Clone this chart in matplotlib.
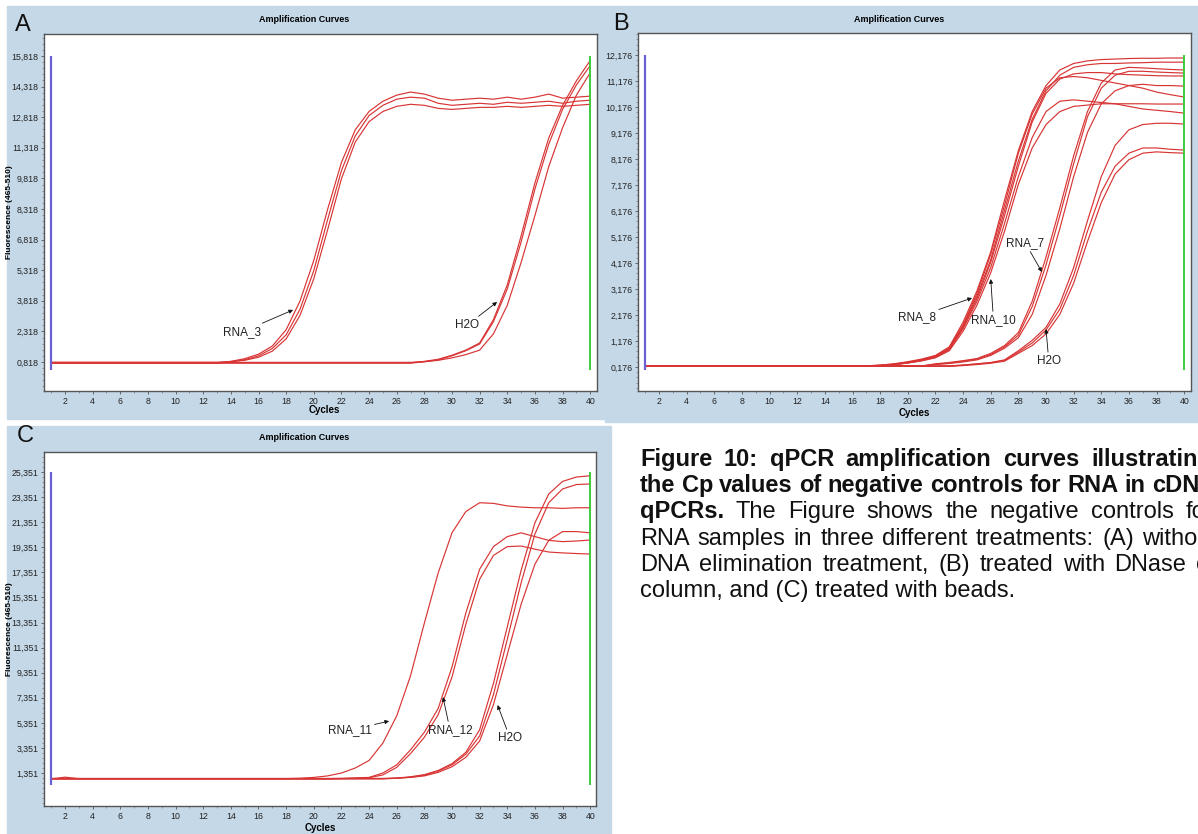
import matplotlib
matplotlib.use('Agg')
import matplotlib.pyplot as plt
import numpy as np
from matplotlib.patches import Rectangle
from matplotlib.ticker import MultipleLocator, AutoMinorLocator

W, H = 1198, 834
plt.rcParams['font.family'] = ['Liberation Sans Narrow', 'Liberation Sans', 'DejaVu Sans']

cycles = np.arange(1, 41)

# ---- panel A : no DNA elimination ----
a_ticks = [0.818, 2.318, 3.818, 5.318, 6.818, 8.318, 9.818, 11.318, 12.818, 14.318, 15.818]
a_rna3 = [
    [0.78] * 13 + [0.85, 0.98, 1.2, 1.6, 2.4, 3.8, 5.8, 8.3, 10.6, 12.2, 13.1, 13.6, 13.9, 14.05,
                   13.95, 13.75, 13.65, 13.7, 13.75, 13.7, 13.8, 13.7, 13.8, 13.95, 13.75, 13.8, 13.85],
    [0.76] * 13 + [0.82, 0.93, 1.12, 1.48, 2.15, 3.4, 5.3, 7.8, 10.2, 11.9, 12.9, 13.4, 13.7, 13.8,
                   13.75, 13.5, 13.4, 13.45, 13.5, 13.45, 13.55, 13.5, 13.55, 13.6, 13.5, 13.6, 13.65],
    [0.80] * 13 + [0.84, 0.9, 1.05, 1.35, 1.95, 3.1, 4.9, 7.3, 9.8, 11.6, 12.6, 13.1, 13.35, 13.45,
                   13.4, 13.25, 13.2, 13.25, 13.3, 13.3, 13.35, 13.3, 13.35, 13.4, 13.35, 13.4, 13.45],
]
a_h2o = [
    [0.78] * 27 + [0.85, 0.95, 1.15, 1.4, 1.75, 2.9, 4.6, 7.0, 9.6, 11.8, 13.4, 14.6, 15.6],
    [0.76] * 27 + [0.83, 0.93, 1.12, 1.37, 1.7, 2.8, 4.4, 6.7, 9.3, 11.5, 13.2, 14.4, 15.35],
    [0.80] * 27 + [0.83, 0.9, 1.02, 1.18, 1.4, 2.2, 3.6, 5.7, 8.0, 10.4, 12.3, 13.9, 15.0],
]

# ---- panel B : DNase on column ----
b_ticks = [0.176, 1.176, 2.176, 3.176, 4.176, 5.176, 6.176, 7.176, 8.176, 9.176, 10.176, 11.176, 12.176]
b_rna8_10 = [
    [0.22] * 17 + [0.25, 0.3, 0.38, 0.48, 0.62, 0.95, 1.9, 3.1, 4.6, 6.6, 8.5, 10.0, 11.0, 11.6,
                   11.85, 11.95, 12.0, 12.02, 12.04, 12.05, 12.05, 12.06, 12.06],
    [0.20] * 17 + [0.23, 0.28, 0.35, 0.45, 0.58, 0.9, 1.75, 2.9, 4.3, 6.2, 8.1, 9.7, 10.8, 11.4,
                   11.7, 11.8, 11.85, 11.85, 11.87, 11.88, 11.9, 11.9, 11.9],
    [0.22] * 17 + [0.24, 0.29, 0.36, 0.46, 0.6, 0.9, 1.8, 3.0, 4.5, 6.4, 8.4, 9.9, 10.9, 11.3,
                   11.35, 11.3, 11.2, 11.1, 11.0, 10.9, 10.75, 10.65, 10.56],
    [0.21] * 17 + [0.23, 0.27, 0.34, 0.44, 0.57, 0.85, 1.7, 2.8, 4.2, 6.0, 7.9, 9.6, 10.7, 11.25,
                   11.45, 11.5, 11.5, 11.45, 11.42, 11.4, 11.38, 11.37, 11.37],
    [0.20] * 17 + [0.22, 0.26, 0.33, 0.42, 0.55, 0.85, 1.65, 2.7, 4.0, 5.7, 7.5, 9.0, 10.0, 10.4,
                   10.45, 10.4, 10.35, 10.3, 10.2, 10.1, 10.05, 10.0, 9.94],
    [0.22] * 17 + [0.24, 0.27, 0.33, 0.41, 0.53, 0.8, 1.55, 2.55, 3.8, 5.4, 7.2, 8.6, 9.5, 10.0,
                   10.2, 10.25, 10.3, 10.3, 10.3, 10.3, 10.29, 10.29, 10.29],
]
b_rna7 = [
    [0.21] * 21 + [0.3, 0.35, 0.42, 0.5, 0.7, 1.0, 1.5, 2.7, 4.4, 6.3, 8.3, 10.0, 11.1, 11.6,
                   11.7, 11.68, 11.65, 11.62, 11.6],
    [0.22] * 21 + [0.28, 0.33, 0.4, 0.48, 0.66, 0.95, 1.4, 2.5, 4.1, 6.0, 8.0, 9.8, 10.9, 11.4,
                   11.55, 11.55, 11.52, 11.5, 11.48],
    [0.20] * 21 + [0.27, 0.31, 0.37, 0.45, 0.62, 0.9, 1.3, 2.2, 3.7, 5.5, 7.5, 9.2, 10.3, 10.8,
                   11.0, 11.05, 11.0, 11.0, 10.98],
]
b_h2o = [
    [0.21] * 23 + [0.25, 0.3, 0.35, 0.45, 0.8, 1.2, 1.7, 2.6, 4.0, 5.8, 7.5, 8.7, 9.3, 9.5, 9.55, 9.55, 9.52],
    [0.22] * 23 + [0.25, 0.29, 0.34, 0.43, 0.75, 1.1, 1.6, 2.4, 3.7, 5.4, 6.9, 7.9, 8.4, 8.6, 8.6, 8.55, 8.52],
    [0.20] * 23 + [0.23, 0.27, 0.32, 0.4, 0.7, 1.0, 1.45, 2.2, 3.4, 5.0, 6.5, 7.6, 8.15, 8.4, 8.45, 8.42, 8.4],
]

# ---- panel C : beads ----
c_ticks = [1.351, 3.351, 5.351, 7.351, 9.351, 11.351, 13.351, 15.351, 17.351, 19.351, 21.351, 23.351, 25.351]
c_rna11 = [
    [0.88, 1.02] + [0.9] * 15 + [0.9, 0.93, 1.0, 1.12, 1.35, 1.75, 2.35, 3.74, 5.9, 9.1, 13.3, 17.3,
                                 20.5, 22.2, 22.9, 22.85, 22.65, 22.55, 22.5, 22.5, 22.45, 22.5, 22.5],
]
c_rna12 = [
    [0.90] * 21 + [0.92, 0.96, 1.0, 1.35, 2.0, 3.2, 4.6, 6.5, 9.8, 14.1, 17.6, 19.4, 20.2, 20.5,
                   20.2, 19.9, 19.8, 19.85, 19.93],
    [0.88] * 21 + [0.9, 0.93, 0.97, 1.2, 1.8, 2.9, 4.2, 6.0, 9.0, 13.2, 16.8, 18.7, 19.4, 19.45,
                   19.2, 18.97, 18.9, 18.85, 18.81],
]
c_h2o = [
    [0.90] * 25 + [0.95, 1.05, 1.22, 1.55, 2.1, 3.0, 4.8, 8.5, 13.0, 17.5, 21.3, 23.6, 24.6, 24.95, 25.05],
    [0.88] * 25 + [0.93, 1.02, 1.18, 1.5, 2.0, 2.85, 4.3, 7.6, 12.0, 16.5, 20.4, 22.9, 24.0, 24.35, 24.4],
    [0.92] * 25 + [0.94, 1.0, 1.12, 1.4, 1.85, 2.6, 3.9, 6.8, 10.8, 14.8, 18.0, 19.9, 20.6, 20.6, 20.5],
]

caption = [
    [("Figure", 1), ("10:", 1), ("qPCR", 1), ("amplification", 1), ("curves", 1), ("illustrating", 1)],
    [("the", 1), ("Cp", 1), ("values", 1), ("of", 1), ("negative", 1), ("controls", 1), ("for", 1),
     ("RNA", 1), ("in", 1), ("cDNA", 1)],
    [("qPCRs.", 1), ("The", 0), ("Figure", 0), ("shows", 0), ("the", 0), ("negative", 0),
     ("controls", 0), ("for", 0)],
    [("RNA", 0), ("samples", 0), ("in", 0), ("three", 0), ("different", 0), ("treatments:", 0),
     ("(A)", 0), ("without", 0)],
    [("DNA", 0), ("elimination", 0), ("treatment,", 0), ("(B)", 0), ("treated", 0), ("with", 0),
     ("DNase", 0), ("on", 0)],
    [("column, and (C) treated with beads.", 0)],
]
# right edge (px) each justified line would reach; the page crops them
caption_ends = [1212, 1216, 1213, 1217, 1222, None]

RED = '#d83434'
PANEL = '#c5d8e7'


def fx(x):
    return x / W


def fy(y):
    return 1 - y / H


fig = plt.figure(figsize=(W / 100, H / 100), dpi=100)

for x0, y0, x1, y1 in [(7, 6, 605, 419), (605, 6, 1198, 422), (7, 426, 611, 834)]:
    fig.add_artist(Rectangle((fx(x0), fy(y1)), fx(x1) - fx(x0), fy(y0) - fy(y1),
                             transform=fig.transFigure, color=PANEL, zorder=0))


def panel(box, xlim, ylim, ticks, groups, vline_bottom):
    l, t, r, b = box
    ax = fig.add_axes([fx(l), fy(b), fx(r) - fx(l), fy(t) - fy(b)])
    ax.set_facecolor('white')
    for group in groups:
        for vals in group:
            ax.plot(cycles, vals, color=RED, lw=0.85, zorder=3)
    ax.vlines(1, vline_bottom, ticks[-1], color='#6b5fd6', lw=1.6, zorder=4)
    ax.vlines(40, vline_bottom, ticks[-1], color='#3ccc3c', lw=1.4, zorder=4)
    ax.set_xlim(*xlim)
    ax.set_ylim(*ylim)
    ax.set_xticks(np.arange(2, 41, 2))
    ax.xaxis.set_minor_locator(MultipleLocator(1))
    ax.set_yticks(ticks)
    ax.set_yticklabels([f"{v:.3f}".replace('.', ',') for v in ticks])
    ax.yaxis.set_minor_locator(AutoMinorLocator(5))
    ax.tick_params(which='major', length=2.5, width=0.6, color='#555555',
                   labelsize=6.3, labelcolor='#222222', pad=1.5)
    ax.tick_params(which='minor', length=1.3, width=0.5, color='#777777')
    for s in ax.spines.values():
        s.set_color('#555555')
        s.set_linewidth(1.0)
    return ax


ax_a = panel((44, 34, 597, 391), (0.48, 40.49), (-0.604, 16.896), a_ticks, [a_rna3, a_h2o], 0.43)
ax_b = panel((638, 33, 1191, 391), (0.48, 40.49), (-0.747, 13.022), b_ticks,
             [b_rna8_10, b_rna7, b_h2o], 0.06)
ax_c = panel((44, 452, 596, 806), (0.48, 40.42), (-1.28, 26.946), c_ticks,
             [c_rna11, c_rna12, c_h2o], 0.39)

arrow = dict(arrowstyle='-|>', lw=0.6, color='#111111', mutation_scale=6, shrinkA=0, shrinkB=0)
notes = [
    (ax_a, "RNA_3", (14.8, 2.29), (18.5, 3.37)),
    (ax_a, "H2O", (31.1, 2.63), (33.26, 3.76)),
    (ax_b, "RNA_8", (20.67, 2.1), (24.65, 2.83)),
    (ax_b, "RNA_10", (26.2, 1.98), (26.0, 3.56)),
    (ax_b, "RNA_7", (28.5, 4.95), (29.7, 3.83)),
    (ax_b, "H2O", (30.2, 0.41), (30.0, 1.64)),
    (ax_c, "RNA_11", (22.6, 4.77), (25.45, 5.49)),
    (ax_c, "RNA_12", (29.86, 4.77), (29.35, 7.41)),
    (ax_c, "H2O", (34.2, 4.14), (33.3, 6.77)),
]
for ax, label, txt, tip in notes:
    ax.annotate(label, xy=tip, xytext=txt, ha='center', va='center', fontsize=8.5,
                color='#222222', arrowprops=arrow, zorder=5)

# titles, axis names, panel letters
for x, y in [(304, 20), (899, 20), (304, 438)]:
    fig.text(fx(x), fy(y), "Amplification Curves", ha='center', va='center', fontsize=6.5,
             fontweight='bold', family=['Liberation Sans', 'DejaVu Sans'])
for x, y in [(324, 410), (914, 413), (320, 828)]:
    fig.text(fx(x), fy(y), "Cycles", ha='center', va='center', fontsize=7, fontweight='bold')
for y in [212, 629]:
    fig.text(fx(9.5), fy(y), "Fluorescence (465-510)", ha='center', va='center', rotation=90,
             fontsize=6, fontweight='bold', family=['Liberation Sans', 'DejaVu Sans'])
for letter, x, y in [("A", 23, 25), ("B", 621, 24), ("C", 25, 436)]:
    fig.text(fx(x), fy(y), letter, ha='center', va='center', fontsize=17, color='#111111')

# justified caption
fig.canvas.draw()
renderer = fig.canvas.get_renderer()
cap_x0 = 640
base0, lead = 466, 26.2
for i, line in enumerate(caption):
    yb = fy(base0 + i * lead)
    texts = []
    for word, bold in line:
        t = fig.text(0, yb, word, ha='left', va='baseline', fontsize=17,
                     fontweight='bold' if bold else 'normal', color='#111111',
                     family=['Liberation Sans', 'DejaVu Sans'])
        texts.append(t)
    widths = [t.get_window_extent(renderer).width for t in texts]
    end = caption_ends[i]
    gap = (end - cap_x0 - sum(widths)) / (len(texts) - 1) if end else 0
    x = cap_x0
    for t, w in zip(texts, widths):
        t.set_x(fx(x))
        x += w + gap

fig.savefig('out.png', dpi=100)
